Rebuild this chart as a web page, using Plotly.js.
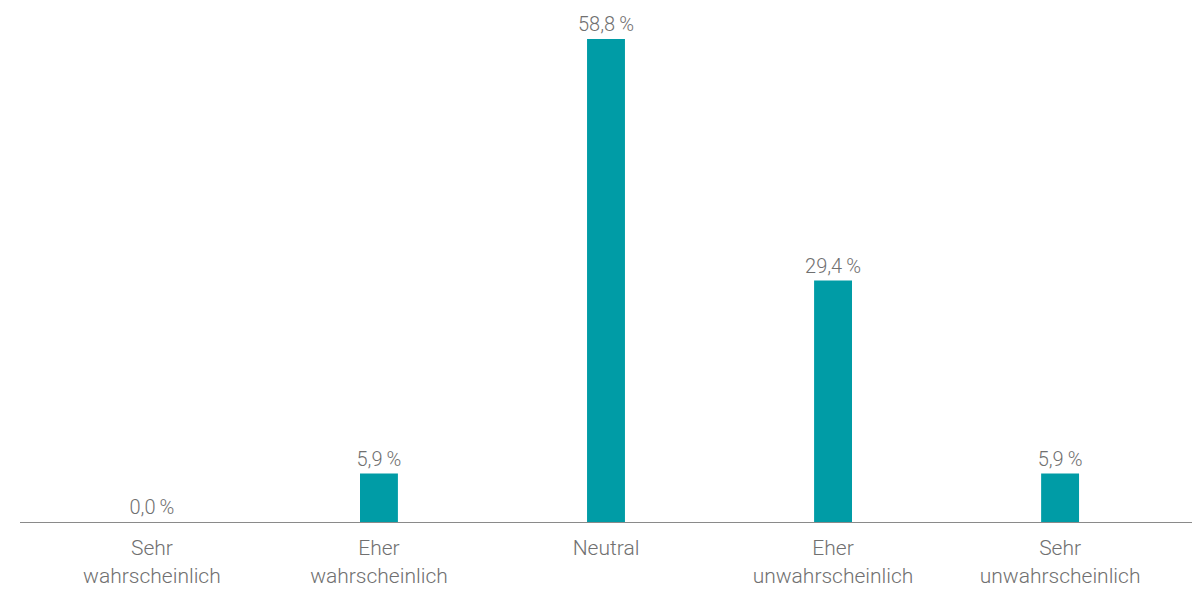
<!DOCTYPE html>
<html><head><meta charset="utf-8">
<script src="https://cdn.plot.ly/plotly-3.0.1.min.js"></script>
<style>html,body{margin:0;padding:0;background:#fff}#chart{width:1204px;height:589px}</style>
</head><body><div id="chart"></div>
<script>
const categories = ["Sehr<br>wahrscheinlich","Eher<br>wahrscheinlich","Neutral","Eher<br>unwahrscheinlich","Sehr<br>unwahrscheinlich"];
const values = [0.0, 5.9, 58.8, 29.4, 5.9];
const labels = values.map(v => v.toFixed(1).replace('.', ',') + '\u2009%');

const fontFam = 'Roboto, "Open Sans", sans-serif';
const trace = {
  type: 'bar',
  x: [0,1,2,3,4],
  y: values,
  text: labels,
  textposition: 'outside',
  constraintext: 'none',
  cliponaxis: false,
  textfont: {family: fontFam, size: 20, color: '#707070', weight: 300},
  marker: {color: '#009ca6'},
  width: 0.167,
  hoverinfo: 'none'
};
const layout = {
  width: 1204, height: 589,
  margin: {l: 20, r: 12, t: 39, b: 67},
  paper_bgcolor: '#fff', plot_bgcolor: '#fff',
  showlegend: false,
  font: {family: fontFam, size: 20, color: '#707070', weight: 300},
  xaxis: {
    range: [-0.581, 4.581],
    tickmode: 'array', tickvals: [0,1,2,3,4], ticktext: categories,
    showline: true, linecolor: '#8a8a8a', linewidth: 1,
    showgrid: false, zeroline: false, ticks: '',
    ticklabelstandoff: 7,
    tickfont: {family: fontFam, size: 21, color: '#707070', weight: 300}
  },
  yaxis: {range: [0, 58.8], visible: false, showgrid: false, zeroline: false}
};
Plotly.newPlot('chart', [trace], layout, {displayModeBar: false, staticPlot: true});
</script></body></html>
